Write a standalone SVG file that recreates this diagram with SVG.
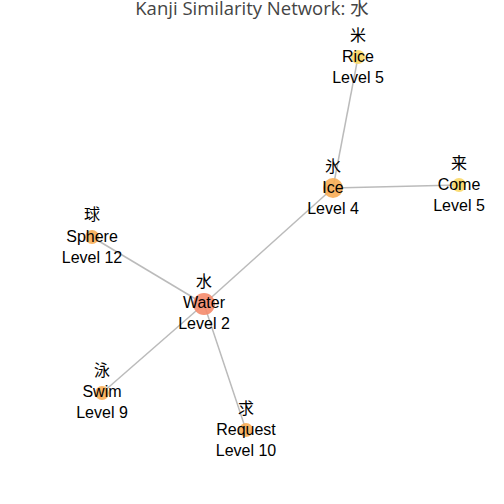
<svg xmlns="http://www.w3.org/2000/svg" width="504" height="504" viewBox="0 0 504 504">
<style>
.t{font-family:"Liberation Sans","Noto Sans CJK JP",Arial,sans-serif;font-size:16px;fill:#000;text-anchor:middle}
.e{stroke:#bbb;stroke-width:1.5;fill:none}
.title{font-family:"Open Sans","Noto Sans CJK JP",sans-serif;font-size:18.5px;fill:#444;text-anchor:middle}
</style>
<rect width="504" height="504" fill="#fff"/>
<text class="title" x="252" y="15">Kanji Similarity Network: 水</text>
<g id="edges">
<line class="e" x1="204" y1="304" x2="333" y2="188"/>
<line class="e" x1="204" y1="304" x2="92" y2="237"/>
<line class="e" x1="204" y1="304" x2="102" y2="393"/>
<line class="e" x1="204" y1="304" x2="246" y2="430"/>
<line class="e" x1="333" y1="188" x2="358" y2="57"/>
<line class="e" x1="333" y1="188" x2="459" y2="185"/>
</g>
<g id="water"><circle cx="204" cy="304" r="11" fill="#f58b6c" opacity="0.9"/>
<text class="t" x="204" y="287">水</text><text class="t" x="204" y="308">Water</text><text class="t" x="204" y="329">Level 2</text></g>
<g id="ice"><circle cx="333" cy="188" r="10" fill="#f8ad55" opacity="0.9"/>
<text class="t" x="333" y="172">氷</text><text class="t" x="333" y="193">Ice</text><text class="t" x="333" y="214">Level 4</text></g>
<g id="rice"><circle cx="358" cy="57" r="7" fill="#fad866" opacity="0.9"/>
<text class="t" x="358" y="41">米</text><text class="t" x="358" y="62">Rice</text><text class="t" x="358" y="83">Level 5</text></g>
<g id="come"><circle cx="459" cy="185" r="7" fill="#fad866" opacity="0.9"/>
<text class="t" x="459" y="169">来</text><text class="t" x="459" y="190">Come</text><text class="t" x="459" y="211">Level 5</text></g>
<g id="sphere"><circle cx="92" cy="237" r="7" fill="#f8ad55" opacity="0.9"/>
<text class="t" x="92" y="220">球</text><text class="t" x="92" y="242">Sphere</text><text class="t" x="92" y="263">Level 12</text></g>
<g id="swim"><circle cx="102" cy="393" r="7" fill="#f8ad55" opacity="0.9"/>
<text class="t" x="102" y="376">泳</text><text class="t" x="102" y="397">Swim</text><text class="t" x="102" y="418">Level 9</text></g>
<g id="request"><circle cx="246" cy="430" r="7" fill="#f8ad55" opacity="0.9"/>
<text class="t" x="246" y="414">求</text><text class="t" x="246" y="435">Request</text><text class="t" x="246" y="456">Level 10</text></g>
</svg>
